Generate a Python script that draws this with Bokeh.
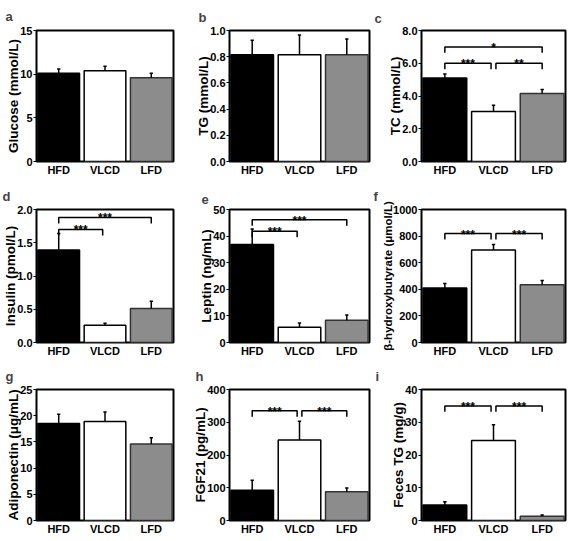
from bokeh.plotting import figure
from bokeh.layouts import gridplot
from bokeh.models import Range1d, FixedTicker
from bokeh.embed import file_html
from bokeh.resources import INLINE

groups = ["HFD", "VLCD", "LFD"]
bar_colors = ["#000000", "#ffffff", "#8c8c8c"]
bar_edges = ["#000000", "#000000", "#333333"]

glucose = [10.1, 10.4, 9.6]
glucose_err = [0.5, 0.5, 0.5]
tg = [0.815, 0.815, 0.815]
tg_err = [0.11, 0.15, 0.12]
tc = [5.1, 3.05, 4.15]
tc_err = [0.25, 0.38, 0.24]
insulin = [1.39, 0.26, 0.51]
insulin_err = [0.25, 0.03, 0.11]
leptin = [36.8, 5.7, 8.4]
leptin_err = [5.9, 1.6, 1.9]
bhb = [410, 695, 434]
bhb_err = [33, 42, 32]
adipo = [18.5, 18.9, 14.6]
adipo_err = [1.8, 1.8, 1.2]
fgf21 = [92, 246, 88]
fgf21_err = [31, 57, 11]
feces_tg = [4.7, 24.4, 1.3]
feces_tg_err = [1.0, 4.8, 0.4]

ticks_a = [0, 5, 10, 15]
labels_a = ["0", "5", "10", "15"]
ticks_b = [0, 0.2, 0.4, 0.6, 0.8, 1.0]
labels_b = ["0.0", "0.2", "0.4", "0.6", "0.8", "1.0"]
ticks_c = [0, 2, 4, 6, 8]
labels_c = ["0.0", "2.0", "4.0", "6.0", "8.0"]
ticks_d = [0, 0.5, 1.0, 1.5, 2.0]
labels_d = ["0.0", "0.5", "1.0", "1.5", "2.0"]
ticks_e = [0, 10, 20, 30, 40, 50]
labels_e = ["0", "10", "20", "30", "40", "50"]
ticks_f = [0, 200, 400, 600, 800, 1000]
labels_f = ["0", "200", "400", "600", "800", "1000"]
ticks_g = [0, 5, 10, 15, 20, 25]
labels_g = ["0", "5", "10", "15", "20", "25"]
ticks_h = [0, 100, 200, 300, 400]
labels_h = ["0", "100", "200", "300", "400"]
ticks_i = [0, 10, 20, 30, 40]
labels_i = ["0", "10", "20", "30", "40"]

# significance brackets: (from group, to group, stars, bracket level)
sig_c = [(0, 1, "***", 6.0), (1, 2, "**", 6.0), (0, 2, "*", 7.0)]
sig_d = [(0, 1, "***", 1.70), (0, 2, "***", 1.88)]
sig_e = [(0, 1, "***", 41.8), (0, 2, "***", 46.1)]
sig_f = [(0, 1, "***", 819), (1, 2, "***", 819)]
sig_h = [(0, 1, "***", 335), (1, 2, "***", 335)]
sig_i = [(0, 1, "***", 35.0), (1, 2, "***", 35.0)]

FONT = "Liberation Sans"
col_w = [190, 181, 196]
row_h = [180, 180, 180]
# per-panel borders (left, right, top, bottom), letter offsets and standoffs
borders = {
    "a": (29, 17, 28, 17), "b": (33, 2, 27, 17), "c": (49, 2, 23, 19),
    "d": (32, 14, 28, 17), "e": (34, 2, 28, 15), "f": (50, 2, 27, 18),
    "g": (33, 8, 28, 13), "h": (35, 1, 27, 13), "i": (48, 2, 27, 20),
}
letter_offset = {"a": -31, "b": -31, "c": -47, "d": -34, "e": -28, "f": -48,
                 "g": -31, "h": -34, "i": -46}
letter_standoff = {"a": 13, "b": 12, "c": 9, "d": 11, "e": 12, "f": 12,
                   "g": 12, "h": 11, "i": 12}


def panel(letter, ylabel, vals, errs, ticks, labels, sig, row, col, label_size="13.5px"):
    ymax = ticks[-1]
    bl, br, bt, bb = borders[letter]
    p = figure(width=col_w[col], height=row_h[row], output_backend="svg",
               toolbar_location=None,
               x_range=Range1d(0.02, 2.98), y_range=Range1d(0, ymax),
               min_border_left=bl, min_border_right=br,
               min_border_top=bt, min_border_bottom=bb)
    p.title.text = letter
    p.title.align = "left"
    p.title.offset = letter_offset[letter]
    p.title.text_font = FONT
    p.title.text_font_size = "13px"
    p.title.text_font_style = "bold"
    p.title.standoff = letter_standoff[letter]
    p.grid.visible = False
    p.outline_line_color = "black"
    p.outline_line_width = 2
    p.outline_line_alpha = 1
    p.background_fill_color = "white"
    p.border_fill_color = "white"

    xs = [i + 0.5 for i in range(len(groups))]
    p.vbar(x=xs, top=vals, bottom=0, width=0.9, fill_color=bar_colors,
           line_color=bar_edges, line_width=1.5)
    tops = [v + e for v, e in zip(vals, errs)]
    p.segment(x0=xs, y0=vals, x1=xs, y1=tops, line_color="black", line_width=1.5)
    p.segment(x0=[x - 0.035 for x in xs], y0=tops, x1=[x + 0.035 for x in xs], y1=tops,
              line_color="black", line_width=1.5)

    for (i, j, stars, lvl) in sig:
        x0 = xs[i] + (0.05 if i == 1 else 0.0)
        x1 = xs[j] - (0.05 if j == 1 else 0.0)
        drop = 0.045 * ymax
        p.line(x=[x0, x0, x1, x1], y=[lvl - drop, lvl, lvl, lvl - drop],
               line_color="black", line_width=1.5)
        p.text(x=[(x0 + x1) / 2], y=[lvl], text=[stars], text_align="center",
               text_baseline="alphabetic", y_offset=1, text_font_size="12px",
               text_font_style="bold", text_color="black")

    xa = p.xaxis[0]
    xa.ticker = FixedTicker(ticks=xs)
    xa.major_label_overrides = {x: g for x, g in zip(xs, groups)}
    xa.axis_line_color = None
    xa.major_tick_line_color = None
    xa.major_tick_out = 0
    xa.major_tick_in = 0
    xa.minor_tick_line_color = None
    xa.minor_tick_out = 0
    xa.major_label_standoff = 2
    xa.major_label_text_font = FONT
    xa.major_label_text_font_size = "11px"
    xa.major_label_text_font_style = "bold"
    xa.major_label_text_color = "black"

    ya = p.yaxis[0]
    ya.ticker = FixedTicker(ticks=ticks)
    ya.major_label_overrides = {t: l for t, l in zip(ticks, labels)}
    ya.axis_line_color = None
    ya.major_tick_line_color = "black"
    ya.major_tick_out = 3
    ya.major_tick_in = 0
    ya.minor_tick_line_color = None
    ya.minor_tick_out = 0
    ya.major_label_standoff = 1
    ya.major_label_text_font = FONT
    ya.major_label_text_font_size = "11px"
    ya.major_label_text_font_style = "bold"
    ya.major_label_text_color = "black"
    ya.axis_label = ylabel
    ya.axis_label_standoff = -4
    ya.axis_label_text_font = FONT
    ya.axis_label_text_font_size = label_size
    ya.axis_label_text_font_style = "bold"
    ya.axis_label_text_color = "black"
    return p


pa = panel("a", "Glucose (mmol/L)", glucose, glucose_err, ticks_a, labels_a, [], 0, 0)
pb = panel("b", "TG (mmol/L)", tg, tg_err, ticks_b, labels_b, [], 0, 1)
pc = panel("c", "TC (mmol/L)", tc, tc_err, ticks_c, labels_c, sig_c, 0, 2)
pd = panel("d", "Insulin (pmol/L)", insulin, insulin_err, ticks_d, labels_d, sig_d, 1, 0)
pe = panel("e", "Leptin (ng/mL)", leptin, leptin_err, ticks_e, labels_e, sig_e, 1, 1)
pf = panel("f", "β-hydroxybutyrate (μmol/L)", bhb, bhb_err, ticks_f, labels_f, sig_f, 1, 2, "11.5px")
pg = panel("g", "Adiponectin (μg/mL)", adipo, adipo_err, ticks_g, labels_g, [], 2, 0)
ph = panel("h", "FGF21 (pg/mL)", fgf21, fgf21_err, ticks_h, labels_h, sig_h, 2, 1)
pi = panel("i", "Feces TG (mg/g)", feces_tg, feces_tg_err, ticks_i, labels_i, sig_i, 2, 2)

grid = gridplot([[pa, pb, pc], [pd, pe, pf], [pg, ph, pi]], toolbar_location=None)

open("out.html", "w").write(file_html(grid, INLINE))
